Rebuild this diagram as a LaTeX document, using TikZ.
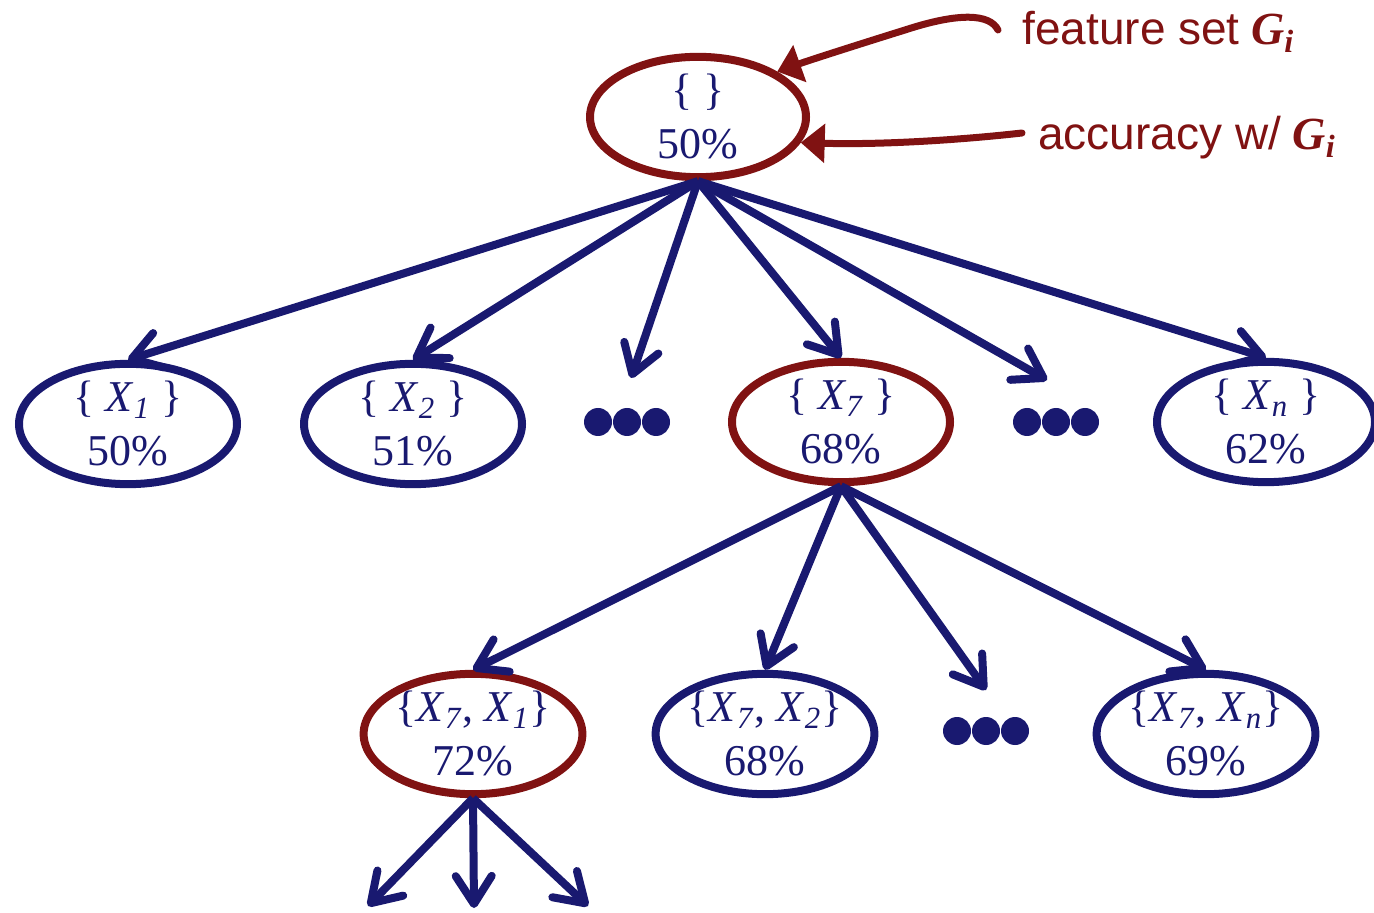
\documentclass[tikz,border=0pt]{standalone}
\usepackage{fontspec}
\setmainfont{Liberation Serif}
\newfontfamily\labelsans{Liberation Sans}
\usetikzlibrary{shapes.geometric,arrows.meta}
\definecolor{navy}{RGB}{25,25,112}
\definecolor{dred}{RGB}{128,18,18}
\newcommand\vx[1]{\textit{X}\textsubscript{\textit{#1}}}
\newcommand\gi{\textbf{\textit{G}}\textsubscript{\textbf{\textit{i}}}}
\begin{document}
\begin{tikzpicture}[x=0.5pt,y=-0.5pt,
  setnode/.style={ellipse, draw=navy, line width=4pt, minimum width=109pt, minimum height=57pt,
    inner sep=0pt, text=navy, font=\fontsize{22}{27}\selectfont, align=center},
  selnode/.style={setnode, draw=dred},
  treearrow/.style={draw=navy, line width=4pt, -{Straight Barb[length=14pt,width=18pt,round]}},
  notearrow/.style={draw=dred, line width=3.5pt, -{Triangle[length=12pt,width=19pt]}},
  notetext/.style={text=dred, font=\fontsize{23}{27}\selectfont, anchor=base west, inner sep=0pt},
  dotsnode/.style={inner sep=0pt, minimum size=2pt}
]
\useasboundingbox (0,0) rectangle (1374,913);
% nodes
\node[selnode, minimum width=108pt, minimum height=52pt] (root) at (698,117) {\{ \}\\50\%};
\node[setnode] (x1) at (128,424) {\{ \vx{1} \}\\50\%};
\node[setnode] (x2) at (413,424) {\{ \vx{2} \}\\51\%};
\node[dotsnode] (d1) at (627,422) {};
\node[selnode] (x7) at (841,422) {\{ \vx{7} \}\\68\%};
\node[dotsnode] (d2) at (1056,422) {};
\node[setnode] (xn) at (1266,422) {\{ \vx{n} \}\\62\%};
\node[selnode] (x71) at (473,734) {\{\vx{7}, \vx{1}\}\\72\%};
\node[setnode] (x72) at (765,734) {\{\vx{7}, \vx{2}\}\\68\%};
\node[dotsnode] (d3) at (986,731) {};
\node[setnode] (x7n) at (1206,734) {\{\vx{7}, \vx{n}\}\\69\%};
% dots
\foreach \d in {d1,d2,d3}{
  \foreach \dx in {-29,0,29}{
    \fill[navy] (\d) ++(\dx,0) circle[radius=7pt];
  }
}
% free ends
\coordinate (e1) at (631,378);
\coordinate (e2) at (1047,380);
\coordinate (e3) at (986,690);
\coordinate (b1) at (368,906);
\coordinate (b2) at (474,908);
\coordinate (b3) at (588,906);
% tree arrows
\draw[treearrow] (root.south) -- (x1.north);
\draw[treearrow] (root.south) -- (x2.north);
\draw[treearrow] (root.south) -- (e1);
\draw[treearrow] (root.south) -- (x7.north);
\draw[treearrow] (root.south) -- (e2);
\draw[treearrow] (root.south) -- (xn.north);
\draw[treearrow] (x7.south) -- (x71.north);
\draw[treearrow] (x7.south) -- (x72.north);
\draw[treearrow] (x7.south) -- (e3);
\draw[treearrow] (x7.south) -- (x7n.north);
\draw[treearrow] (x71.south) -- (b1);
\draw[treearrow] (x71.south) -- (b2);
\draw[treearrow] (x71.south) -- (b3);
% notes
\node[notetext] (fs) at (1022,45) {{\labelsans feature set} \gi};
\node[notetext] (acc) at (1038,150) {{\labelsans accuracy w/} \gi};
\coordinate (fsS) at (998,30);
\coordinate (accS) at (1022,133);
\draw[notearrow, line cap=round] (fsS) .. controls (990,14) and (960,12) .. (905,30)
   .. controls (860,44) and (810,60) .. (root.north east);
\draw[notearrow, line cap=round] (accS) .. controls (960,140) and (880,145) .. (root.-14);
\end{tikzpicture}
\end{document}
